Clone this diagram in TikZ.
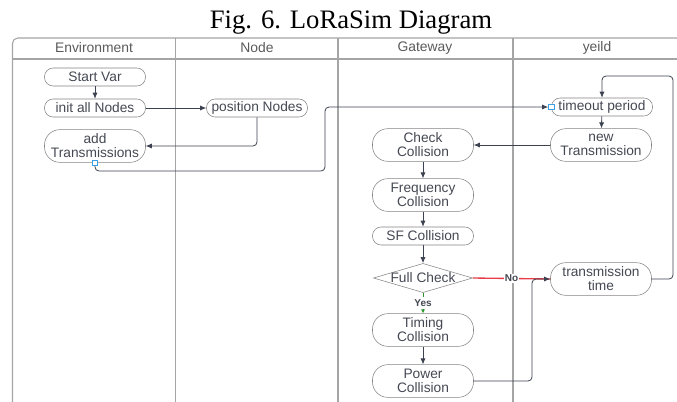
\documentclass[tikz,border=0pt]{standalone}
\usepackage{fontspec}
\setmainfont{Liberation Serif}
\setsansfont{Liberation Sans}
\usetikzlibrary{arrows.meta,positioning,shapes.geometric}
\definecolor{lanegray}{RGB}{165,165,165}
\definecolor{boxgray}{RGB}{130,130,130}
\definecolor{arrowgray}{RGB}{60,66,80}
\definecolor{textgray}{RGB}{68,72,82}
\definecolor{headgray}{RGB}{90,90,90}
\definecolor{portblue}{RGB}{60,160,230}
\definecolor{nored}{RGB}{232,60,72}
\definecolor{yesgreen}{RGB}{40,150,40}

\begin{document}
\begin{tikzpicture}[x=0.75pt,y=-0.75pt,
  proc/.style={draw=boxgray,rounded corners=6.5pt,minimum width=75.75pt,minimum height=13.5pt,inner sep=1pt,text=textgray,font=\sffamily\fontsize{10.3}{10.5}\selectfont,align=center},
  tall/.style={rounded corners=11.5pt,minimum height=24.5pt},
  port/.style={draw=portblue,fill=white,minimum size=4pt,inner sep=0pt,line width=0.6pt},
  conn/.style={draw=arrowgray,line width=0.6pt,-{Latex[length=4.5pt,width=3.8pt]},rounded corners=3pt},
  lane/.style={draw=lanegray,line width=0.8pt},
  head/.style={text=headgray,font=\sffamily\fontsize{10.4}{12}\selectfont}]
  \useasboundingbox (0,0) rectangle (677,401);
  \node[font=\fontsize{20}{24}\selectfont,anchor=base] (title) at (351,28) {Fig. 6. LoRaSim Diagram};
  % swimlanes
  \draw[lane,rounded corners=4pt] (12.5,38) rectangle (685,420);
  \draw[lane] (12.5,59) -- (685,59);
  \draw[lane] (175.5,38) -- (175.5,420);
  \draw[lane] (338,38) -- (338,420);
  \draw[lane] (513,38) -- (513,420);
  \node[head] (envhead) at (94,48) {Environment};
  \node[head] (nodehead) at (257,48) {Node};
  \node[head] (gwhead) at (425,48) {Gateway};
  \node[head] (yieldhead) at (597,48) {yeild};
  % steps
  \node[proc] (startvar) at (95,77) {Start Var};
  \node[proc] (initnodes) at (95,108) {init all Nodes};
  \node[proc] (posnodes) at (257,108) {position Nodes};
  \node[proc,tall] (addtx) at (95,146) {add\\Transmissions};
  \node[proc] (timeout) at (602,107) {timeout period};
  \node[proc,tall] (newtx) at (601,145) {new\\Transmission};
  \node[proc,tall] (checkcol) at (423,145) {Check\\Collision};
  \node[proc,tall] (freqcol) at (423,195) {Frequency\\Collision};
  \node[proc] (sfcol) at (423,236) {SF Collision};
  \node[draw=boxgray,diamond,aspect=3.4,inner sep=0pt,text=textgray,font=\sffamily\fontsize{10.3}{10.5}\selectfont] (fullcheck) at (423,278) {Full Check};
  \node[proc,tall] (txtime) at (601,279) {transmission\\time};
  \node[proc,tall] (timingcol) at (423,330) {Timing\\Collision};
  \node[proc,tall] (powercol) at (423,381) {Power\\Collision};
  \node[port] (addport) at (addtx.south) {};
  \node[port] (toport) at (timeout.west) {};
  % flow
  \coordinate (detour) at (325,171);
  \coordinate (merge) at (532,279);
  \coordinate (loopcorner) at (673,76);
  \draw[conn] (startvar) -- (initnodes);
  \draw[conn] (initnodes) -- (posnodes);
  \draw[conn] (posnodes.south) |- (addtx.east);
  \draw[conn] (addport.south) |- (detour) |- (toport.west);
  \draw[conn] (timeout) -- (newtx);
  \draw[conn] (newtx) -- (checkcol);
  \draw[conn] (checkcol) -- (freqcol);
  \draw[conn] (freqcol) -- (sfcol);
  \draw[conn] (sfcol) -- (fullcheck);
  \draw[conn] (timingcol) -- (powercol);
  \draw[nored,line width=1pt] (fullcheck.east) -- (txtime.west)
    node[pos=0.5,fill=white,inner sep=0.5pt,text=textgray,font=\sffamily\bfseries\fontsize{7.5}{8}\selectfont] {No};
  \draw[conn] (powercol.east) -| (merge) -- (txtime.west);
  \draw[yesgreen,line width=0.6pt,dashed,-{Latex[length=3pt,width=3pt]}] (fullcheck.south) -- (timingcol.north)
    node[midway,fill=white,inner sep=0.5pt,text=textgray,font=\sffamily\bfseries\fontsize{7.5}{8}\selectfont] {Yes};
  \draw[conn] (txtime.east) -| (loopcorner) -| (timeout.north);
\end{tikzpicture}
\end{document}
